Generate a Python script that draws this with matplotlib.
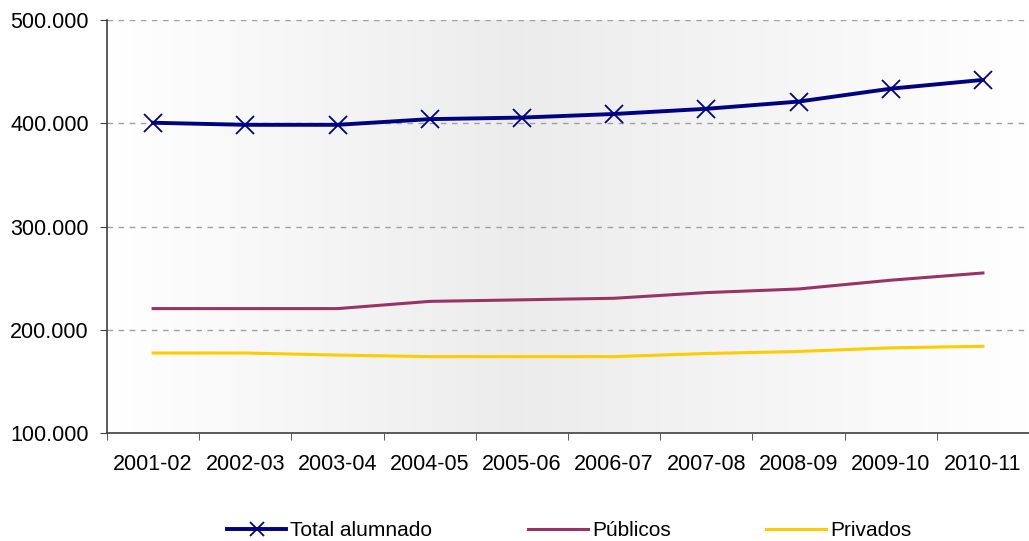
import numpy as np
import matplotlib
matplotlib.use("Agg")
import matplotlib.pyplot as plt
from matplotlib.ticker import FuncFormatter, FixedLocator

plt.rcParams['font.family'] = ['Liberation Sans', 'DejaVu Sans']

cursos = ['2001-02', '2002-03', '2003-04', '2004-05', '2005-06',
          '2006-07', '2007-08', '2008-09', '2009-10', '2010-11']
total = [400500, 398500, 398500, 404000, 405500, 409000, 414000, 421000, 433500, 442000]
publicos = [220500, 220500, 220500, 227500, 229000, 230500, 236000, 239500, 248000, 255000]
privados = [177500, 177500, 175500, 174000, 174000, 174000, 177000, 179000, 182500, 184000]

fig = plt.figure(figsize=(10.29, 5.41), dpi=100)
ax = fig.add_axes([0.104, 0.1996, 0.896, 0.7634])

# background gradient (white - light gray - white)
xs = np.linspace(0, 1, 400)
shade = np.interp(xs, [0, 0.45, 1.0], [1.0, 0.925, 1.0])
grad = np.dstack([shade, shade, shade])
ax.imshow(grad, extent=[0, 1, 0, 1], transform=ax.transAxes, aspect='auto', zorder=0)

x = np.arange(len(cursos))
ax.plot(x, total, color='#000080', lw=2.8, marker='x', ms=13, mew=1.3,
        label='Total alumnado', zorder=4)
ax.plot(x, publicos, color='#993366', lw=2.2, label='Públicos', zorder=3)
ax.plot(x, privados, color='#FFCC00', lw=2.2, label='Privados', zorder=3)

ax.set_xlim(-0.5, len(cursos) - 0.5)
ax.set_ylim(100000, 500000)
ax.set_yticks([100000, 200000, 300000, 400000, 500000])
ax.yaxis.set_major_formatter(FuncFormatter(lambda v, p: f"{int(v):,}".replace(',', '.')))
ax.set_xticks(x)
ax.set_xticklabels(cursos)
ax.xaxis.set_minor_locator(FixedLocator(np.arange(-0.5, len(cursos), 1.0)))
ax.tick_params(axis='x', which='major', length=0, pad=15, labelsize=15.5)
ax.tick_params(axis='x', which='minor', length=5, color='#404040')
ax.tick_params(axis='y', length=5, color='#404040', labelsize=15.5, pad=8)

for v in [200000, 300000, 400000, 500000]:
    ax.axhline(v, color='#a0a0a0', lw=1, ls=(0, (4, 4)), zorder=1)

for s in ['top', 'right']:
    ax.spines[s].set_visible(False)
ax.spines['left'].set_color('#404040')
ax.spines['bottom'].set_color('#404040')
ax.spines['left'].set_linewidth(1.2)
ax.spines['bottom'].set_linewidth(1.2)

leg = fig.legend(loc='lower center', bbox_to_anchor=(0.553, -0.033), ncol=3, frameon=False,
                 handlelength=2.85, columnspacing=4.6, handletextpad=0.2,
                 prop={'family': ['Liberation Sans'], 'size': 15})
leg.legend_handles[0].set_markersize(10)

fig.savefig('out.png', dpi=100)
